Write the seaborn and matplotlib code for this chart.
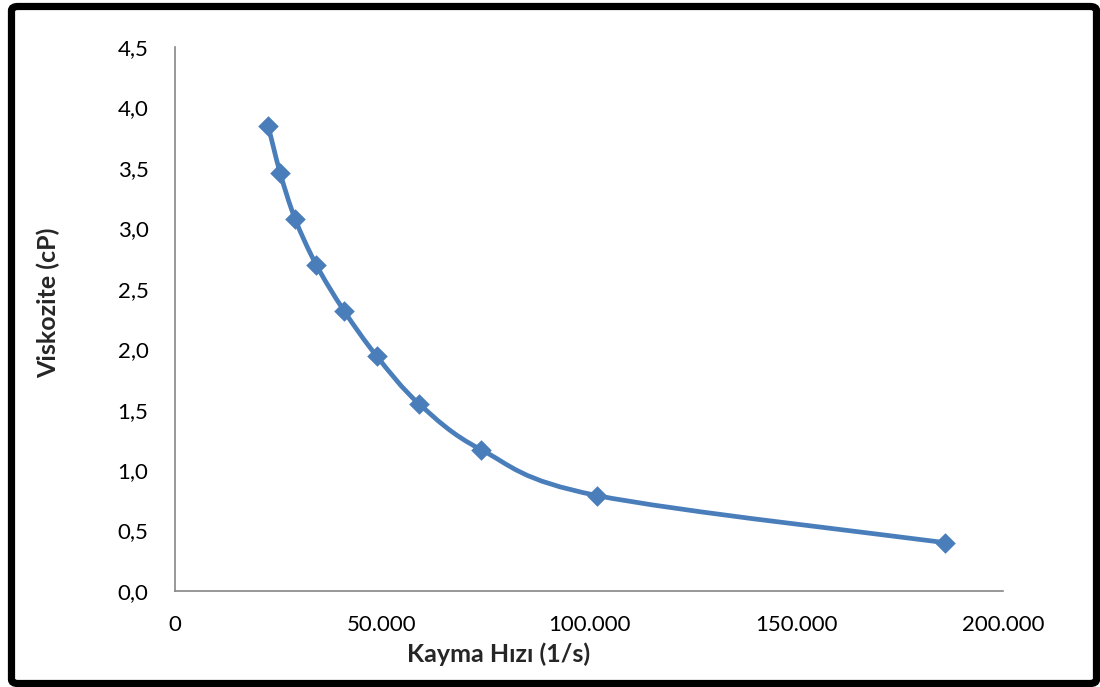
import matplotlib
matplotlib.use("Agg")
from matplotlib import pyplot as plt
from matplotlib.path import Path
from matplotlib.patches import PathPatch, FancyBboxPatch
from matplotlib.ticker import FuncFormatter, MultipleLocator
import seaborn as sns
import numpy as np
import pandas as pd

# shear rate (1/s) and viscosity (cP)
kayma_hizi = [22500, 25400, 29000, 34100, 40800, 48800, 58900, 73900, 101900, 186000]
viskozite = [3.85, 3.46, 3.08, 2.70, 2.32, 1.94, 1.55, 1.17, 0.79, 0.40]

df = pd.DataFrame({"x": kayma_hizi, "y": viskozite})
blue = "#4A7EBB"

sns.set_style("white")
plt.rcParams["font.family"] = ["Lato", "DejaVu Sans"]

fig = plt.figure(figsize=(11, 6.87), dpi=100)
ax = fig.add_axes([0.159, 0.1397, 0.753, 0.792])

# excel style smoothed line (catmull-rom as cubic bezier)
pts = df[["x", "y"]].to_numpy(dtype=float)
verts = [pts[0]]
codes = [Path.MOVETO]
n = len(pts)
for i in range(n - 1):
    p0 = pts[max(i - 1, 0)]
    p1 = pts[i]
    p2 = pts[i + 1]
    p3 = pts[min(i + 2, n - 1)]
    c1 = p1 + (p2 - p0) / 6.0
    c2 = p2 - (p3 - p1) / 6.0
    verts += [c1, c2, p2]
    codes += [Path.CURVE4] * 3
ax.add_patch(PathPatch(Path(verts, codes), facecolor="none", edgecolor=blue,
                       lw=3.4, capstyle="round", joinstyle="round", zorder=2))

sns.scatterplot(data=df, x="x", y="y", marker="D", s=110, color=blue,
                edgecolor=blue, linewidth=0, ax=ax, zorder=3)

ax.set_xlim(0, 200000)
ax.set_ylim(0, 4.5)
ax.xaxis.set_major_locator(MultipleLocator(50000))
ax.yaxis.set_major_locator(MultipleLocator(0.5))
ax.xaxis.set_major_formatter(FuncFormatter(lambda v, p: f"{int(v):,}".replace(",", ".")))
ax.yaxis.set_major_formatter(FuncFormatter(lambda v, p: f"{v:.1f}".replace(".", ",")))
ax.tick_params(axis="both", length=0, labelsize=16, colors="black")
ax.tick_params(axis="x", pad=17)
ax.tick_params(axis="y", pad=19)

for s in ["top", "right"]:
    ax.spines[s].set_visible(False)
for s in ["left", "bottom"]:
    ax.spines[s].set_color("#868686")
    ax.spines[s].set_linewidth(1.2)

ax.set_xlabel("Kayma Hızı (1/s)", fontsize=18, fontweight="bold")
ax.set_ylabel("Viskozite (cP)", fontsize=18, fontweight="bold")
ax.xaxis.set_label_coords(0.391, -0.094)
ax.yaxis.set_label_coords(-0.139, 0.529)

# black frame around the whole picture
frame = FancyBboxPatch((0.01045, 0.0051), 0.98636, 0.98545,
                       boxstyle="round,pad=0,rounding_size=0.006",
                       transform=fig.transFigure, facecolor="none",
                       edgecolor="black", lw=5.2, zorder=10)
fig.patches.append(frame)

fig.savefig("out.png", dpi=100, facecolor="white")
